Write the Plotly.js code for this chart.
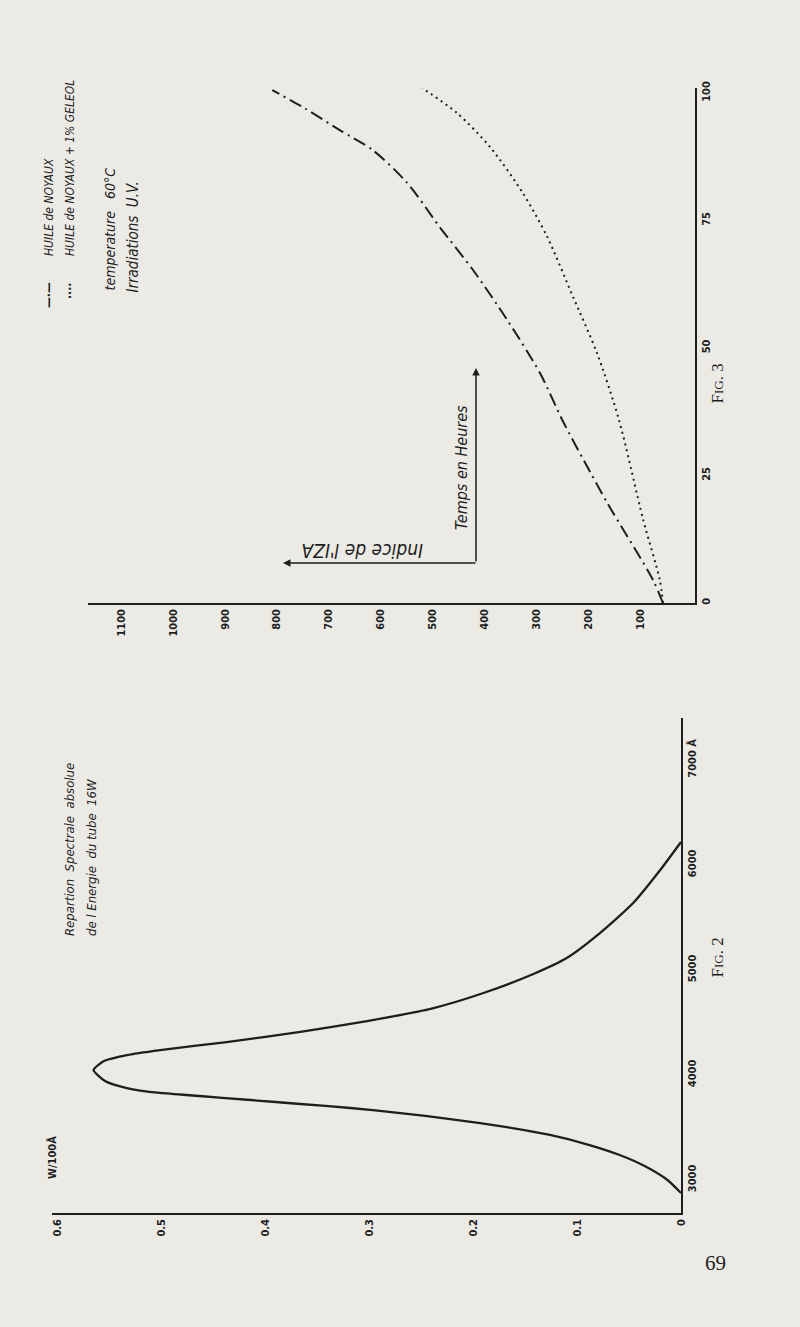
<!DOCTYPE html>
<html>
<head>
<meta charset="utf-8">
<script src="https://cdn.plot.ly/plotly-3.0.1.min.js"></script>
<style>
html,body{margin:0;padding:0;background:#ebeae5;}
#chart{width:800px;height:1327px;}
</style>
</head>
<body>
<div id="chart"></div>
<script>
// ---------- Fig. 3 : Indice de l'Iza vs Temps en heures ----------
const timeNoyaux = [0, 4.5, 19.4, 27.5, 35.9, 45.1, 55.5, 65.3, 73.7, 82.4, 88.8, 92.7, 97, 100.6];
const izaNoyaux  = [56, 75, 162, 206, 250, 293, 356, 422, 486, 549, 615, 678, 746, 809];
const timeGeleol = [0, 4.5, 16.3, 36, 49, 60, 71.8, 80.4, 89.4, 96.1, 101];
const izaGeleol  = [56, 62, 94, 141, 183, 229, 279, 326, 389, 453, 520];
const izaTicks   = [100, 200, 300, 400, 500, 600, 700, 800, 900, 1000, 1100];
const timeTicks  = [0, 25, 50, 75, 100];

// ---------- Fig. 2 : Répartition spectrale ----------
const wavelength = [2876, 3000, 3133, 3238, 3333, 3429, 3514, 3581, 3638, 3686, 3724, 3762, 3800, 3829, 3876, 3943, 4048,
                    4133, 4190, 4238, 4314, 4410, 4514, 4638, 4781, 4962, 5114, 5352, 5638, 5952, 6219];
const energy     = [0, 0.013, 0.035, 0.059, 0.088, 0.126, 0.174, 0.222, 0.270, 0.318, 0.366, 0.414, 0.463, 0.501, 0.533, 0.554, 0.565,
                    0.555, 0.533, 0.501, 0.437, 0.366, 0.302, 0.238, 0.190, 0.142, 0.110, 0.078, 0.046, 0.020, 0];
const energyTicks  = [0, 0.1, 0.2, 0.3, 0.4, 0.5, 0.6];
const energyLabels = ['0', '0.1', '0.2', '0.3', '0.4', '0.5', '0.6'];
const waveTicks    = [3000, 4000, 5000, 6000, 7000];
const waveLabels   = ['3000', '4000', '5000', '6000', '7000 Å'];

const W = 800, H = 1327;
const px = v => v / W;
const py = v => 1 - v / H;
const ink = '#1e1e1e';
const hand = 'DejaVu Sans Condensed, DejaVu Sans, sans-serif';

const tickFont = {family: hand, size: 11, color: ink, weight: 'bold'};

const traces = [
  {x: izaNoyaux, y: timeNoyaux, xaxis: 'x', yaxis: 'y', mode: 'lines',
   line: {color: ink, width: 2, dash: '13px,5px,2px,5px', shape: 'spline', smoothing: 0.8}},
  {x: izaGeleol, y: timeGeleol, xaxis: 'x', yaxis: 'y', mode: 'lines',
   line: {color: ink, width: 2, dash: '2px,4px', shape: 'spline', smoothing: 0.8}},
  {x: energy, y: wavelength, xaxis: 'x2', yaxis: 'y2', mode: 'lines',
   line: {color: ink, width: 2.3, shape: 'spline', smoothing: 0.6}}
];

const axBase = {showgrid: false, zeroline: false, showline: true, linecolor: ink, linewidth: 1.6,
                ticks: '', tickangle: -90, tickfont: tickFont, fixedrange: true};

function rot(text, x, y, size, opts) {
  return Object.assign({text: text, x: px(x), y: py(y), xref: 'paper', yref: 'paper', showarrow: false,
    textangle: -90, font: {family: hand, size: size, color: ink, style: 'italic'}}, opts || {});
}

const layout = {
  width: W, height: H,
  margin: {l: 0, r: 0, t: 0, b: 0},
  paper_bgcolor: '#ebeae5', plot_bgcolor: 'rgba(0,0,0,0)',
  showlegend: false,
  xaxis: Object.assign({}, axBase, {domain: [px(88), px(695)], range: [1164, -5.8], anchor: 'y',
          tickvals: izaTicks, ticktext: izaTicks.map(String)}),
  yaxis: Object.assign({}, axBase, {domain: [py(603), py(88)], range: [0, 101], anchor: 'x', side: 'right',
          tickvals: timeTicks, ticktext: timeTicks.map(String)}),
  xaxis2: Object.assign({}, axBase, {domain: [px(52), px(681)], range: [0.605, 0], anchor: 'y2',
          tickvals: energyTicks, ticktext: energyLabels}),
  yaxis2: Object.assign({}, axBase, {domain: [py(1213), py(718)], range: [2686, 7400], anchor: 'x2', side: 'right',
          tickvals: waveTicks, ticktext: waveLabels}),
  annotations: [
    // legend Fig 3
    rot('—·—', 40, 280, 12, {font: {family: hand, size: 12, color: ink, weight: 'bold'}}),
    rot('HUILE de NOYAUX', 40, 258, 12, {yanchor: 'bottom'}),
    rot('····', 61, 281, 12, {font: {family: hand, size: 12, color: ink, weight: 'bold'}}),
    rot('HUILE de NOYAUX + 1% GELEOL', 61, 258, 12, {yanchor: 'bottom'}),
    rot('temperature   60°C', 99, 293, 14, {yanchor: 'bottom'}),
    rot('Irradiations  U.V.', 121, 295, 15, {yanchor: 'bottom'}),
    // axis titles with arrows (Fig 3)
    rot('Temps en Heures', 461, 468, 16),
    {text: "Indice de l'IZA", x: px(362), y: py(551), xref: 'paper', yref: 'paper', showarrow: false, textangle: 180,
     font: {family: hand, size: 19, color: ink, style: 'italic'}},
    {text: '', x: px(476), y: py(368), xref: 'paper', yref: 'paper', showarrow: true, ax: 0, ay: 195,
     arrowhead: 2, arrowsize: 1, arrowwidth: 1.5, arrowcolor: ink},
    {text: '', x: px(283), y: py(563), xref: 'paper', yref: 'paper', showarrow: true, ax: 194, ay: 0,
     arrowhead: 2, arrowsize: 1, arrowwidth: 1.5, arrowcolor: ink},
    rot('F<span style="font-size:13px">IG</span>. 3', 728, 362, 17, {font: {family: 'Liberation Serif, serif', size: 17, color: ink}}),
    // Fig 2 texts
    rot('Repartion  Spectrale  absolue', 60, 938, 13, {yanchor: 'bottom'}),
    rot('de l Energie  du tube  16W', 82, 938, 13, {yanchor: 'bottom'}),
    rot('W/100Å', 44, 1181, 11, {font: {family: hand, size: 11, color: ink, weight: 'bold'}}),
    rot('F<span style="font-size:13px">IG</span>. 2', 728, 980, 17, {font: {family: 'Liberation Serif, serif', size: 17, color: ink}}),
    // page number
    {text: '69', x: px(728), y: py(1277), xref: 'paper', yref: 'paper', showarrow: false,
     font: {family: 'Liberation Serif, serif', size: 21, color: ink}}
  ]
};

Plotly.newPlot('chart', traces, layout, {displayModeBar: false, staticPlot: true});
</script>
</body>
</html>
